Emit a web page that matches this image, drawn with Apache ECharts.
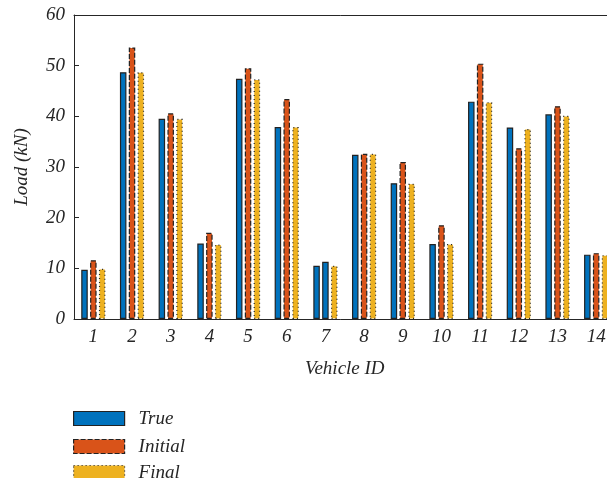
<!DOCTYPE html>
<html>
<head>
<meta charset="utf-8">
<script src="https://cdn.jsdelivr.net/npm/echarts@6/dist/echarts.min.js"></script>
<style>html,body{margin:0;padding:0;background:#fff}#c{width:607px;height:478px}</style>
</head>
<body>
<div id="c"></div>
<script>
const categories = ['1','2','3','4','5','6','7','8','9','10','11','12','13','14'];
const trueLoad    = [9.7, 48.7, 39.5, 14.9, 47.4, 37.9, 10.5, 32.4, 26.8, 14.8, 42.9, 37.8, 40.4, 12.7];
const initialLoad = [11.6, 53.6, 40.6, 17.0, 49.5, 43.4, 11.3, 32.6, 31.0, 18.5, 50.4, 33.7, 42.0, 13.0];
const finalLoad   = [9.9, 48.7, 39.5, 14.7, 47.3, 37.9, 10.5, 32.6, 26.7, 14.8, 42.8, 37.5, 40.1, 12.6];
const yTicks = [0, 10, 20, 30, 40, 50, 60];
const seriesNames = ['True', 'Initial', 'Final'];

const BLUE = '#0072BD', ORANGE = '#D95319', YELLOW = '#EDB120';
const FONT = 'Liberation Serif';
const TXT = '#262626';
const EDGE = '#222222';
const styles = [
  { color: BLUE,   borderColor: EDGE, borderWidth: 1.2, borderType: 'solid' },
  { color: ORANGE, borderColor: EDGE, borderWidth: 1.2, borderType: [5, 2] },
  { color: YELLOW, borderColor: EDGE, borderWidth: 1.2, borderType: [1, 3] }
];

// the 7th "Initial" bar is drawn in blue with a solid edge in the reference
const initialData = initialLoad.map((v, i) => i === 6
  ? { value: v, itemStyle: { color: BLUE, borderType: 'solid' } }
  : v);

const chart = echarts.init(document.getElementById('c'), null, { renderer: 'canvas' });
const baseBar = { type: 'bar', barWidth: 6.5, barGap: '36%', z: 2 };
const axisLineStyle = { color: TXT, width: 1 };
const legendTops = [409, 437, 463];

chart.setOption({
  animation: false,
  grid: { left: 74, top: 15, bottom: 159, right: -8.5, containLabel: false, outerBoundsMode: 'none' },
  legend: seriesNames.map((n, i) => ({
    orient: 'vertical', left: 73, top: legendTops[i], padding: 0,
    itemWidth: 51, itemHeight: 14, icon: 'rect',
    textStyle: { fontFamily: FONT, fontStyle: 'italic', fontSize: 19, color: TXT, padding: [0, 0, 0, 9], lineHeight: 14 },
    data: [{ name: n, icon: 'rect', itemStyle: styles[i] }]
  })),
  xAxis: [{
    type: 'category', data: categories, position: 'bottom', z: 10,
    boundaryGap: true,
    name: 'Vehicle ID', nameLocation: 'middle', nameGap: 40,
    nameTextStyle: { fontFamily: FONT, fontStyle: 'italic', fontSize: 19, color: TXT },
    axisLine: { lineStyle: axisLineStyle },
    axisTick: { inside: true, alignWithLabel: true, length: 5, lineStyle: axisLineStyle },
    axisLabel: { fontFamily: FONT, fontStyle: 'italic', fontSize: 19, color: TXT, margin: 8 },
    splitLine: { show: false }
  }, {
    type: 'category', data: categories, position: 'top', z: 10,
    boundaryGap: true,
    axisLine: { lineStyle: axisLineStyle },
    axisTick: { inside: true, alignWithLabel: true, length: 5, lineStyle: axisLineStyle },
    axisLabel: { show: false },
    splitLine: { show: false }
  }],
  yAxis: {
    type: 'value', min: 0, max: 60, interval: 10, z: 10,
    name: 'Load (kN)', nameLocation: 'middle', nameGap: 43,
    nameTextStyle: { fontFamily: FONT, fontStyle: 'italic', fontSize: 19, color: TXT },
    axisLine: { show: true, lineStyle: axisLineStyle },
    axisTick: { show: true, inside: true, length: 5, lineStyle: axisLineStyle },
    axisLabel: { fontFamily: FONT, fontStyle: 'italic', fontSize: 19, color: TXT, margin: 9,
      formatter: v => yTicks.includes(v) ? String(v) : '' },
    splitLine: { show: false }
  },
  series: [
    Object.assign({}, baseBar, { name: seriesNames[0], data: trueLoad, itemStyle: styles[0] }),
    Object.assign({}, baseBar, { name: seriesNames[1], data: initialData, itemStyle: styles[1] }),
    Object.assign({}, baseBar, { name: seriesNames[2], data: finalLoad, itemStyle: styles[2] })
  ]
});
</script>
</body>
</html>
